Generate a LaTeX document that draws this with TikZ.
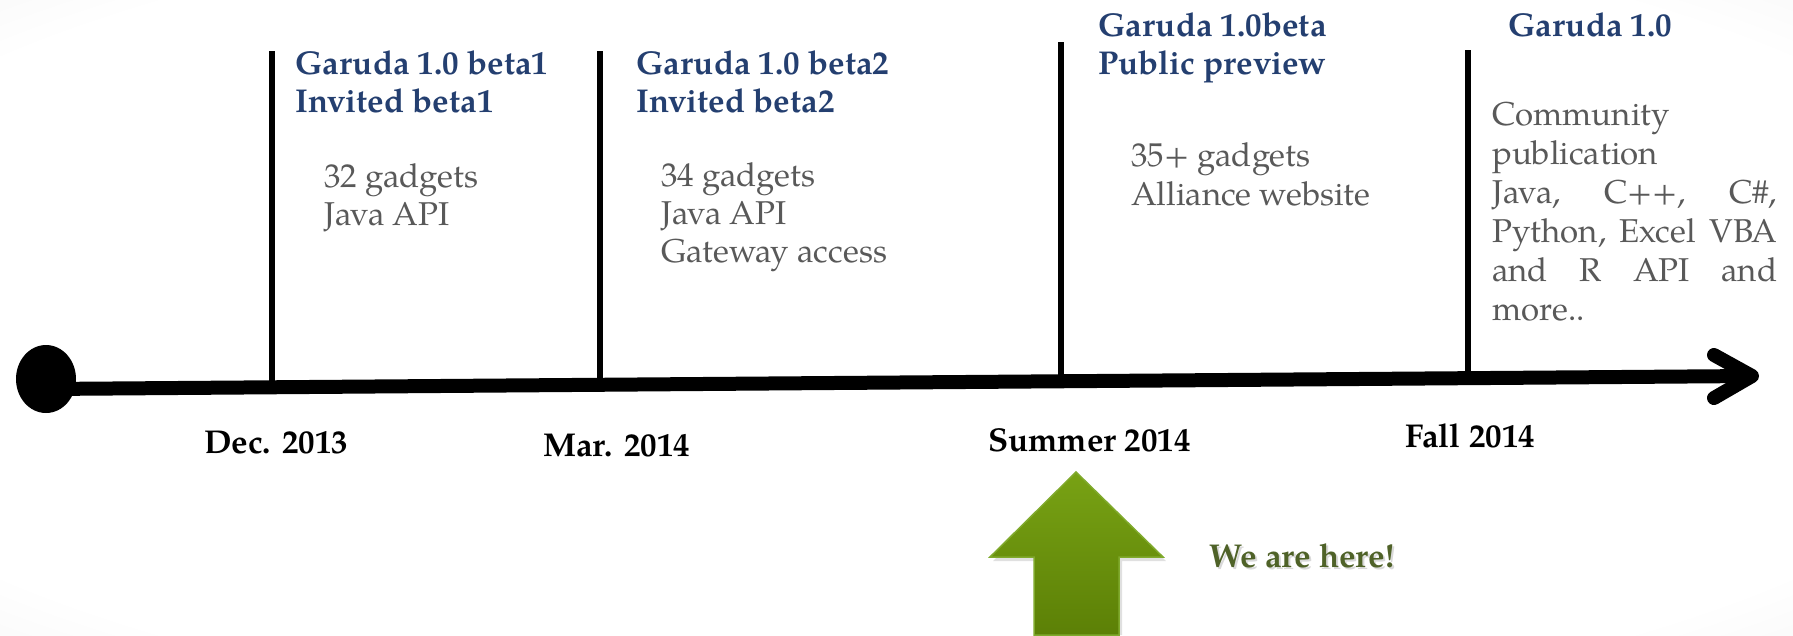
\documentclass[tikz,border=0pt]{standalone}
\usepackage{fontspec}
\setmainfont{TeX Gyre Pagella}
\usetikzlibrary{shapes.geometric}

\definecolor{headblue}{RGB}{36,63,112}
\definecolor{bodygray}{RGB}{89,89,89}
\definecolor{herogreen}{RGB}{79,98,40}
\definecolor{arrowtop}{RGB}{120,162,20}
\definecolor{arrowbot}{RGB}{92,128,6}
\definecolor{arrowedge}{RGB}{128,170,45}

% soft light-grey vignette for the slide background
\pgfdeclareradialshading{vignette}{\pgfpoint{0bp}{0bp}}{%
  color(0bp)=(white); color(32bp)=(white); color(50bp)=(black!9); color(72bp)=(black!14)}

\begin{document}
\begin{tikzpicture}[x=1pt,y=-1pt,
  heading/.style={anchor=base west, inner sep=0pt, align=left, text=headblue,
                  font=\fontsize{33}{38}\selectfont\bfseries},
  bodytext/.style={anchor=base west, inner sep=0pt, align=left, text=bodygray,
                   font=\fontsize{33}{38}\selectfont},
  datelabel/.style={anchor=base west, inner sep=0pt, text=black,
                    font=\fontsize{33}{38}\selectfont\bfseries},
  tickline/.style={line width=6pt},
  timeline/.style={line width=14pt}]

  % page frame and background
  \useasboundingbox (0,0) rectangle (1793,635);
  \shade[shading=vignette] (0,0) rectangle (1793,635);

  % time axis: start dot, bar and open chevron head
  \node[ellipse, fill=black, minimum width=60pt, minimum height=68pt, inner sep=0pt] (origin) at (46,379) {};
  \coordinate (lineL) at (46,389);
  \coordinate (tip)   at (1752,376);
  \coordinate (armU)  at (1714,355);
  \coordinate (armD)  at (1714,398);
  \draw[timeline] (lineL) -- (tip);
  \draw[timeline, line cap=round, line join=round] (armU) -- (tip) -- (armD);

  % milestone ticks
  \coordinate (t1top) at (272,51);   \coordinate (t1bot) at (272,388);
  \coordinate (t2top) at (600,51);   \coordinate (t2bot) at (600,385);
  \coordinate (t3top) at (1061,42);  \coordinate (t3bot) at (1061,382);
  \coordinate (t4top) at (1468,50);  \coordinate (t4bot) at (1468,379);
  \draw[tickline] (t1top) -- (t1bot);
  \draw[tickline] (t2top) -- (t2bot);
  \draw[tickline] (t3top) -- (t3bot);
  \draw[tickline] (t4top) -- (t4bot);

  % release titles (anchored at the baseline of their last line)
  \node[heading] (h1) at (295,112) {Garuda 1.0 beta1\\Invited beta1};
  \node[heading] (h2) at (636,112) {Garuda 1.0 beta2\\Invited beta2};
  \node[heading] (h3) at (1098,74) {Garuda 1.0beta\\Public preview};
  \node[heading] (h4) at (1508,36) {Garuda 1.0};

  % release contents
  \node[bodytext] (b1) at (324,225) {32 gadgets\\Java API};
  \node[bodytext] (b2) at (661,262) {34 gadgets\\Java API\\Gateway access};
  \node[bodytext, font=\fontsize{33}{39}\selectfont] (b3) at (1131,205) {35+ gadgets\\Alliance website};
  \node[bodytext, text width=285pt, font=\fontsize{33}{39}\selectfont] (b4) at (1492,125)
    {Community\\publication\\Java,\hfill C++,\hfill C\#,\\Python,\hfill Excel\hfill VBA\\and\hfill R\hfill API\hfill and\\more..};

  % dates under the axis
  \node[datelabel] (d1) at (204,453)  {Dec. 2013};
  \node[datelabel] (d2) at (543,456)  {Mar. 2014};
  \node[datelabel] (d3) at (988,451)  {Summer 2014};
  \node[datelabel] (d4) at (1405,447) {Fall 2014};

  % current-position marker
  \fill[black, opacity=0.12] (1037,635) -- (1037,561) -- (993,561) -- (1079,476) -- (1166,561) -- (1122,561) -- (1122,635) -- cycle;
  \shade[top color=arrowtop, bottom color=arrowbot, draw=arrowedge, line width=1.5pt]
    (1034,635) -- (1034,557) -- (990,557) -- (1076,472) -- (1163,557) -- (1119,557) -- (1119,635) -- cycle;
  \node[anchor=base west, inner sep=0pt, text=black, opacity=0.15,
        font=\fontsize{33}{38}\selectfont\bfseries] at (1211,569) {We are here!};
  \node[anchor=base west, inner sep=0pt, text=herogreen,
        font=\fontsize{33}{38}\selectfont\bfseries] (here) at (1209,567) {We are here!};
\end{tikzpicture}
\end{document}
